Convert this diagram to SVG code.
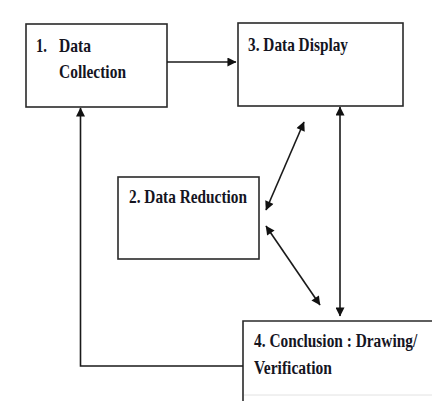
<svg xmlns="http://www.w3.org/2000/svg" width="433" height="402" viewBox="0 0 433 402">
<defs>
<style>
.box{fill:#fff;stroke:#2a2a2a;stroke-width:1.6}
.t{font-family:"Liberation Serif","Times New Roman",serif;font-weight:bold;font-size:19px;fill:#15151f}
.c{fill:none;stroke:#1a1a1a;stroke-width:1.6}
</style>
<marker id="ah" viewBox="0 0 10 10" refX="9.5" refY="5" markerWidth="10" markerHeight="9" markerUnits="userSpaceOnUse" orient="auto-start-reverse">
<path d="M0,0 L10,5 L0,10 Z" fill="#111"/>
</marker>
</defs>
<rect width="433" height="402" fill="#fff"/>
<g id="node1">
<rect class="box" x="26" y="24" width="141" height="83"/>
<text class="t" x="36" y="52" textLength="11" lengthAdjust="spacingAndGlyphs">1.</text>
<text class="t" x="59" y="52" textLength="32" lengthAdjust="spacingAndGlyphs">Data</text>
<text class="t" x="59" y="78" textLength="67" lengthAdjust="spacingAndGlyphs">Collection</text>
</g>
<g id="node3">
<rect class="box" x="238" y="23" width="165" height="83"/>
<text class="t" x="248" y="51" textLength="100" lengthAdjust="spacingAndGlyphs">3. Data Display</text>
</g>
<g id="node2">
<rect class="box" x="118" y="177" width="141" height="82"/>
<text class="t" x="129" y="203" textLength="118" lengthAdjust="spacingAndGlyphs">2. Data Reduction</text>
</g>
<g id="node4">
<path d="M243,401 V321 H432" fill="none" stroke="#2a2a2a" stroke-width="1.6"/>
<line x1="244" y1="395" x2="432" y2="395" stroke="#e2e2e2" stroke-width="1"/>
<text class="t" transform="translate(254,347) scale(0.8,1)" x="0" y="0" textLength="204" lengthAdjust="spacingAndGlyphs">4. Conclusion : Drawing/</text>
<text class="t" transform="translate(254,374) scale(0.8,1)" x="0" y="0" textLength="97.5" lengthAdjust="spacingAndGlyphs">Verification</text>
</g>
<g id="connectors">
<line class="c" x1="167" y1="62" x2="236" y2="62" marker-end="url(#ah)"/>
<line class="c" x1="304" y1="122" x2="266" y2="210" marker-start="url(#ah)" marker-end="url(#ah)"/>
<line class="c" x1="266" y1="226" x2="320" y2="305" marker-start="url(#ah)" marker-end="url(#ah)"/>
<line class="c" x1="340" y1="107" x2="340" y2="316" marker-start="url(#ah)" marker-end="url(#ah)"/>
<path class="c" d="M243,366 H80.5 V108" marker-end="url(#ah)"/>
</g>
</svg>
